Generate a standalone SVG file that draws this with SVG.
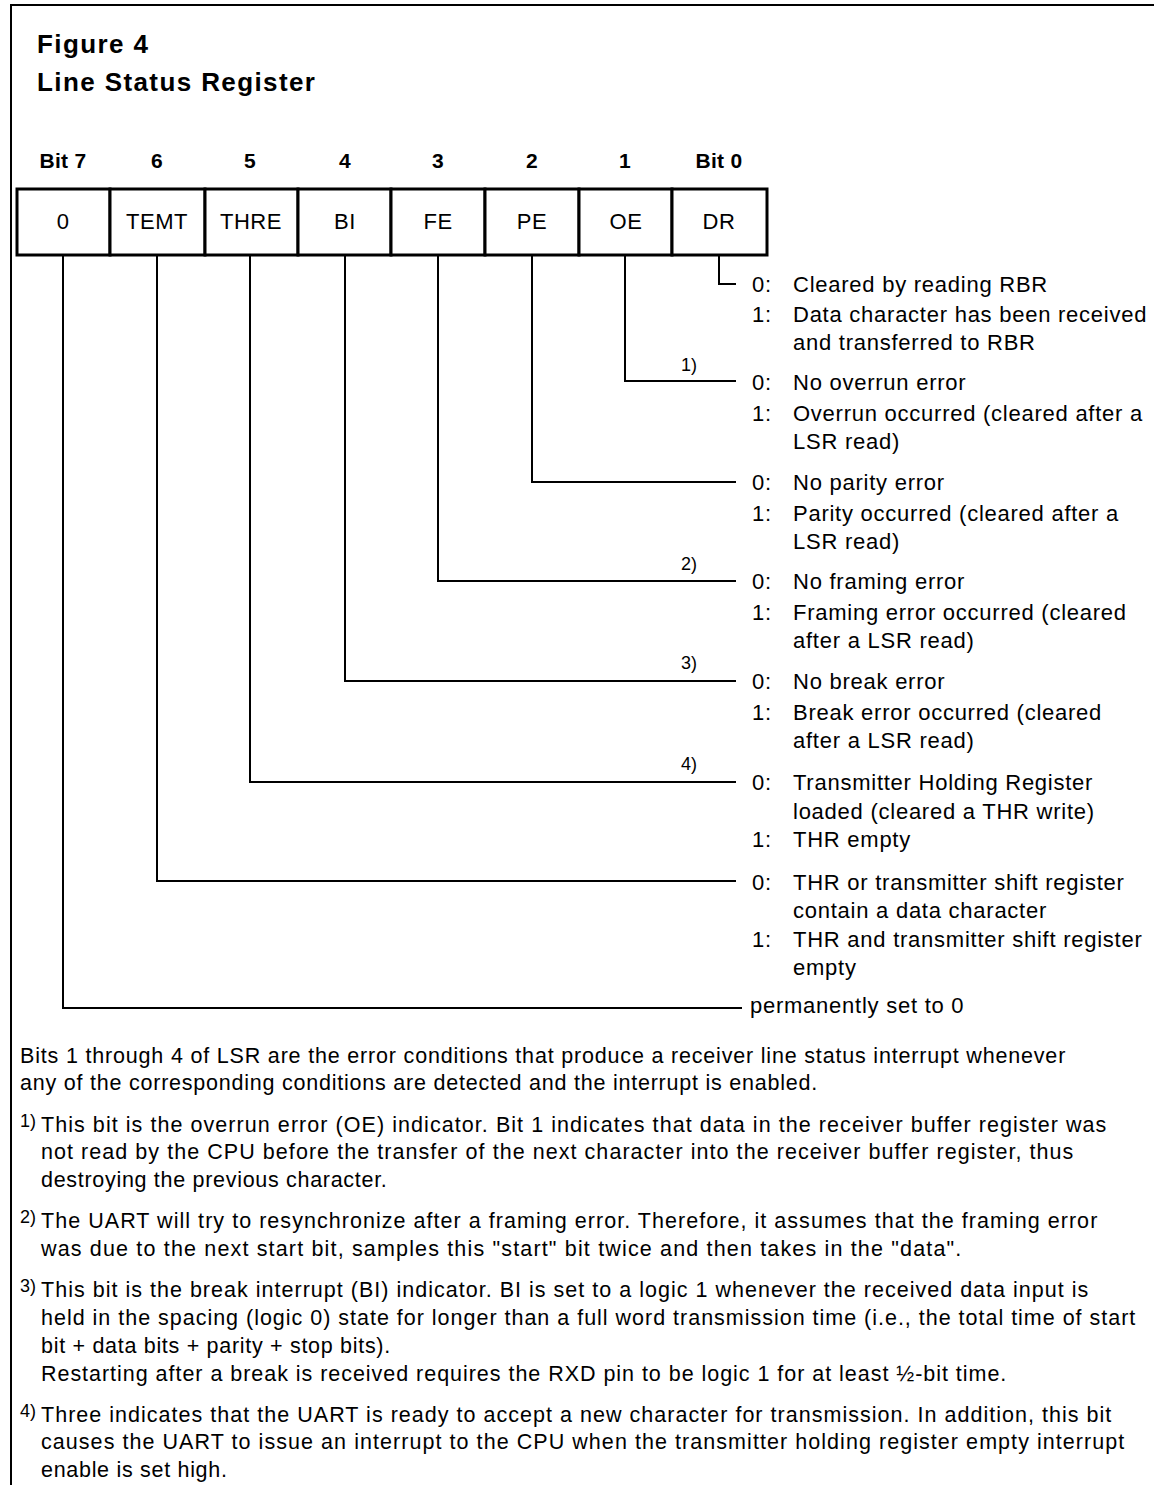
<svg xmlns="http://www.w3.org/2000/svg" width="1154" height="1485" viewBox="0 0 1154 1485">
<style>
text{font-family:"Liberation Sans",Arial,sans-serif;fill:#000}
.title{font-size:26px;font-weight:bold;letter-spacing:1.4px}
.bit{font-size:21px;font-weight:bold;text-anchor:middle;letter-spacing:0.3px}
.cell{font-size:22px;text-anchor:middle;letter-spacing:0.5px}
.d{font-size:22px;letter-spacing:0.75px}
.fn{font-size:18px}
.f{font-size:21.5px;letter-spacing:0.7px}
.box{fill:#fff;stroke:#000;stroke-width:3}
.con{fill:none;stroke:#000;stroke-width:2}
</style>
<rect width="1154" height="1485" fill="#fff"/>
<g id="frame">
<path d="M11,1485 V5 H1154" fill="none" stroke="#000" stroke-width="2"/>
</g>
<g id="title">
<text class="title" x="37" y="53">Figure 4</text>
<text class="title" x="37" y="91">Line Status Register</text>
</g>
<g id="bit-labels">
<text class="bit" x="63" y="168">Bit 7</text>
<text class="bit" x="157" y="168">6</text>
<text class="bit" x="250" y="168">5</text>
<text class="bit" x="345" y="168">4</text>
<text class="bit" x="438" y="168">3</text>
<text class="bit" x="532" y="168">2</text>
<text class="bit" x="625" y="168">1</text>
<text class="bit" x="719" y="168">Bit 0</text>
</g>
<g id="register">
<g id="cell-7"><rect class="box" x="17" y="189" width="93" height="66"/><text class="cell" x="63" y="229">0</text></g>
<g id="cell-6"><rect class="box" x="110" y="189" width="95" height="66"/><text class="cell" x="157" y="229">TEMT</text></g>
<g id="cell-5"><rect class="box" x="205" y="189" width="93" height="66"/><text class="cell" x="251" y="229">THRE</text></g>
<g id="cell-4"><rect class="box" x="298" y="189" width="93" height="66"/><text class="cell" x="345" y="229">BI</text></g>
<g id="cell-3"><rect class="box" x="391" y="189" width="94" height="66"/><text class="cell" x="438" y="229">FE</text></g>
<g id="cell-2"><rect class="box" x="485" y="189" width="94" height="66"/><text class="cell" x="532" y="229">PE</text></g>
<g id="cell-1"><rect class="box" x="579" y="189" width="93" height="66"/><text class="cell" x="626" y="229">OE</text></g>
<g id="cell-0"><rect class="box" x="672" y="189" width="95" height="66"/><text class="cell" x="719" y="229">DR</text></g>
</g>
<g id="connectors">
<path class="con" d="M719,256 V284 H736"/>
<path class="con" d="M625,256 V381 H736"/>
<path class="con" d="M532,256 V482 H736"/>
<path class="con" d="M438,256 V581 H736"/>
<path class="con" d="M345,256 V681 H736"/>
<path class="con" d="M250,256 V782 H736"/>
<path class="con" d="M157,256 V881 H736"/>
<path class="con" d="M63,256 V1008 H742"/>
</g>
<g id="notes-markers">
<text class="fn" x="681" y="371">1)</text>
<text class="fn" x="681" y="570">2)</text>
<text class="fn" x="681" y="669">3)</text>
<text class="fn" x="681" y="770">4)</text>
</g>
<g id="desc-DR">
<text class="d" x="752" y="292">0:</text><text class="d" x="793" y="292">Cleared by reading RBR</text>
<text class="d" x="752" y="322">1:</text><text class="d" x="793" y="322">Data character has been received</text>
<text class="d" x="793" y="350">and transferred to RBR</text>
</g>
<g id="desc-OE">
<text class="d" x="752" y="390">0:</text><text class="d" x="793" y="390">No overrun error</text>
<text class="d" x="752" y="421">1:</text><text class="d" x="793" y="421">Overrun occurred (cleared after a</text>
<text class="d" x="793" y="449">LSR read)</text>
</g>
<g id="desc-PE">
<text class="d" x="752" y="490">0:</text><text class="d" x="793" y="490">No parity error</text>
<text class="d" x="752" y="521">1:</text><text class="d" x="793" y="521">Parity occurred (cleared after a</text>
<text class="d" x="793" y="549">LSR read)</text>
</g>
<g id="desc-FE">
<text class="d" x="752" y="589">0:</text><text class="d" x="793" y="589">No framing error</text>
<text class="d" x="752" y="620">1:</text><text class="d" x="793" y="620">Framing error occurred (cleared</text>
<text class="d" x="793" y="648">after a LSR read)</text>
</g>
<g id="desc-BI">
<text class="d" x="752" y="689">0:</text><text class="d" x="793" y="689">No break error</text>
<text class="d" x="752" y="720">1:</text><text class="d" x="793" y="720">Break error occurred (cleared</text>
<text class="d" x="793" y="748">after a LSR read)</text>
</g>
<g id="desc-THRE">
<text class="d" x="752" y="790">0:</text><text class="d" x="793" y="790">Transmitter Holding Register</text>
<text class="d" x="793" y="819">loaded (cleared a THR write)</text>
<text class="d" x="752" y="847">1:</text><text class="d" x="793" y="847">THR empty</text>
</g>
<g id="desc-TEMT">
<text class="d" x="752" y="890">0:</text><text class="d" x="793" y="890">THR or transmitter shift register</text>
<text class="d" x="793" y="918">contain a data character</text>
<text class="d" x="752" y="947">1:</text><text class="d" x="793" y="947">THR and transmitter shift register</text>
<text class="d" x="793" y="975">empty</text>
</g>
<g id="desc-bit7">
<text class="d" x="750" y="1013">permanently set to 0</text>
</g>
<g id="footer">
<text class="f" x="20" y="1063" textLength="1046">Bits 1 through 4 of LSR are the error conditions that produce a receiver line status interrupt whenever</text>
<text class="f" x="20" y="1090" textLength="798">any of the corresponding conditions are detected and the interrupt is enabled.</text>
<text class="fn" x="20" y="1127">1)</text>
<text class="f" x="41" y="1132" textLength="1066">This bit is the overrun  error (OE) indicator. Bit 1 indicates that data in the receiver buffer register was</text>
<text class="f" x="41" y="1159" textLength="1033">not read by the CPU before the transfer of the next character into the receiver buffer register, thus</text>
<text class="f" x="41" y="1187">destroying the previous character.</text>
<text class="fn" x="20" y="1223">2)</text>
<text class="f" x="41" y="1228" textLength="1057">The UART will try to resynchronize after a framing error. Therefore, it assumes that the framing error</text>
<text class="f" x="41" y="1256" textLength="921">was due to the next start bit, samples this "start" bit twice and then takes in the "data".</text>
<text class="fn" x="20" y="1292">3)</text>
<text class="f" x="41" y="1297" textLength="1048">This bit is the break interrupt (BI) indicator. BI is set to a logic 1 whenever the received data input is</text>
<text class="f" x="41" y="1325" textLength="1095">held in the spacing (logic 0) state for longer than a full word transmission time (i.e., the total time of start</text>
<text class="f" x="41" y="1353">bit + data bits + parity + stop bits).</text>
<text class="f" x="41" y="1381" textLength="966">Restarting after a break is received requires the RXD pin to be logic 1 for at least ½-bit time.</text>
<text class="fn" x="20" y="1417">4)</text>
<text class="f" x="41" y="1422" textLength="1071">Three indicates that the UART is ready to accept a new character for transmission. In addition, this bit</text>
<text class="f" x="41" y="1449" textLength="1084">causes the UART to issue an interrupt to the CPU when the transmitter holding register empty interrupt</text>
<text class="f" x="41" y="1477">enable is set high.</text>
</g>
</svg>
